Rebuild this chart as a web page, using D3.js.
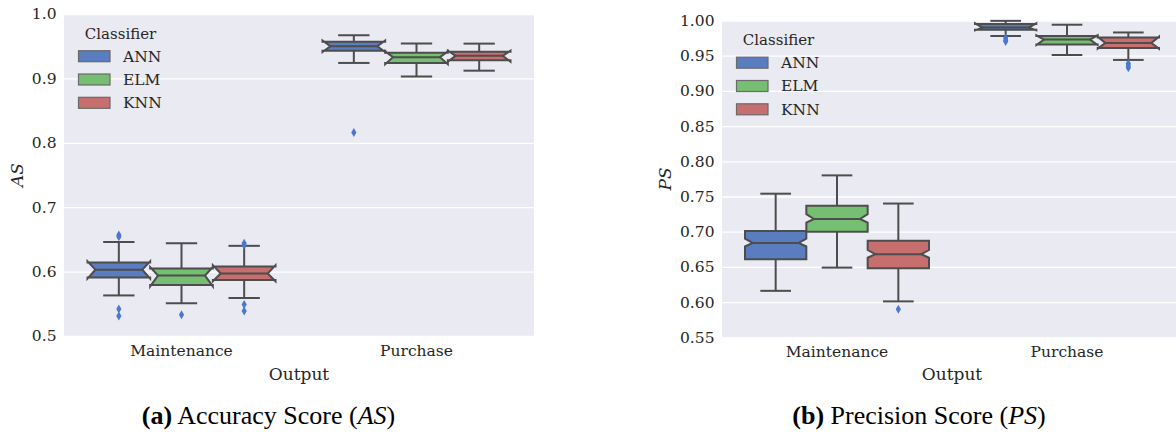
<!DOCTYPE html>
<html>
<head>
<meta charset="utf-8">
<script src="https://cdn.jsdelivr.net/npm/d3@7"></script>
<style>
  body { margin: 0; background: #fff; }
  svg text { font-family: "DejaVu Serif", serif; fill: #262626; }
  svg text.caption { font-family: "Liberation Serif", "Times New Roman", serif; fill: #000; }
</style>
</head>
<body>
<svg id="fig" width="1176" height="435"></svg>
<script>
// ── Data ─────────────────────────────────────────────────────────────────────
const OUTPUTS = ['Maintenance', 'Purchase'];
const CLASSIFIERS = ['ANN', 'ELM', 'KNN'];
const BOX_COLORS = ['#597dbe', '#76bf72', '#c76e6e'];

// [output, classifier, whiskerLo, q1, median, q3, whiskerHi, notchLo, notchHi]
const AS_BOXES = [
    ['Maintenance', 'ANN', 0.563, 0.591, 0.603, 0.614, 0.646, 0.589, 0.616],
    ['Maintenance', 'ELM', 0.551, 0.579, 0.594, 0.605, 0.644, 0.577, 0.607],
    ['Maintenance', 'KNN', 0.559, 0.587, 0.597, 0.608, 0.640, 0.585, 0.610],
    ['Purchase',    'ANN', 0.924, 0.943, 0.950, 0.957, 0.967, 0.941, 0.959],
    ['Purchase',    'ELM', 0.903, 0.924, 0.933, 0.940, 0.954, 0.922, 0.942],
    ['Purchase',    'KNN', 0.912, 0.928, 0.935, 0.9415, 0.954, 0.926, 0.943]
];
// [output, classifier, value]
const AS_OUTLIERS = [
    ['Maintenance', 'ANN', 0.657], ['Maintenance', 'ANN', 0.654],
    ['Maintenance', 'ANN', 0.542], ['Maintenance', 'ANN', 0.531],
    ['Maintenance', 'ELM', 0.533],
    ['Maintenance', 'KNN', 0.644], ['Maintenance', 'KNN', 0.641],
    ['Maintenance', 'KNN', 0.549], ['Maintenance', 'KNN', 0.539],
    ['Purchase',    'ANN', 0.816]
];

const PS_BOXES = [
    ['Maintenance', 'ANN', 0.616, 0.661, 0.684, 0.701, 0.754, 0.679, 0.690],
    ['Maintenance', 'ELM', 0.649, 0.700, 0.718, 0.737, 0.780, 0.713, 0.725],
    ['Maintenance', 'KNN', 0.601, 0.648, 0.668, 0.687, 0.740, 0.663, 0.674],
    ['Purchase',    'ANN', 0.978, 0.987, 0.990, 0.995, 0.9995, 0.986, 0.996],
    ['Purchase',    'ELM', 0.951, 0.966, 0.973, 0.978, 0.994, 0.965, 0.979],
    ['Purchase',    'KNN', 0.944, 0.961, 0.968, 0.976, 0.983, 0.960, 0.977]
];
const PS_OUTLIERS = [
    ['Maintenance', 'KNN', 0.590],
    ['Purchase',    'ANN', 0.975], ['Purchase', 'ANN', 0.972], ['Purchase', 'ANN', 0.970],
    ['Purchase',    'KNN', 0.939], ['Purchase', 'KNN', 0.936], ['Purchase', 'KNN', 0.933]
];

const AS_TICKS = [0.5, 0.6, 0.7, 0.8, 0.9, 1.0];
const PS_TICKS = [0.55, 0.60, 0.65, 0.70, 0.75, 0.80, 0.85, 0.90, 0.95, 1.00];

// ── Styling ──────────────────────────────────────────────────────────────────
const BG = '#eaeaf2';
const LINE = '#4d4d4d';
const FLIER = '#4878cf';
const TICK_FS = 15.5;

const svg = d3.select('#fig');

function drawPanel(opt) {
    const { left, right, top, bottom } = opt.area;
    const g = svg.append('g');

    g.append('rect')
        .attr('x', left).attr('y', top)
        .attr('width', right - left).attr('height', bottom - top)
        .attr('fill', BG);

    const x = d3.scaleBand().domain(OUTPUTS).range([left, right]).padding(0);
    const xIn = d3.scaleBand().domain(CLASSIFIERS)
        .range([0, x.bandwidth() * 0.8]);
    const y = d3.scaleLinear().domain(opt.yDomain).range([bottom, top]);

    // grid
    g.append('g')
        .attr('transform', `translate(${left},0)`)
        .call(d3.axisLeft(y).tickValues(opt.ticks).tickSize(-(right - left)).tickFormat(''))
        .call(s => s.select('.domain').remove())
        .selectAll('line').attr('stroke', '#fff').attr('stroke-width', 1.3);

    // y axis labels
    g.append('g')
        .attr('transform', `translate(${left},0)`)
        .call(d3.axisLeft(y).tickValues(opt.ticks).tickSize(0).tickPadding(7.5)
            .tickFormat(d3.format(opt.fmt)))
        .call(s => s.select('.domain').remove())
        .selectAll('text')
        .attr('font-size', TICK_FS).attr('font-family', '"DejaVu Serif", serif')
        .attr('fill', '#262626');

    // x axis labels
    g.append('g')
        .attr('transform', `translate(0,${bottom})`)
        .call(d3.axisBottom(x).tickSize(0).tickPadding(9))
        .call(s => s.select('.domain').remove())
        .selectAll('text')
        .attr('font-size', TICK_FS).attr('font-family', '"DejaVu Serif", serif')
        .attr('fill', '#262626');

    g.append('text')
        .attr('x', (left + right) / 2).attr('y', 379.5)
        .attr('text-anchor', 'middle').attr('font-size', 17)
        .text('Output');

    g.append('text')
        .attr('transform', `translate(${opt.yLabelX},${(top + bottom) / 2}) rotate(-90)`)
        .attr('text-anchor', 'middle').attr('dy', '0.35em')
        .attr('font-size', 17).attr('font-style', 'italic')
        .text(opt.yLabel);

    // boxes
    const w = xIn.bandwidth();
    const bx = (o, c) => x(o) + x.bandwidth() * 0.1 + xIn(c);

    opt.boxes.forEach(([o, c, wLo, q1, med, q3, wHi, ciLo, ciHi]) => {
        const x0 = bx(o, c), x1 = x0 + w, cx = x0 + w / 2;
        const nl = x0 + w * 0.125, nr = x1 - w * 0.125;
        const color = BOX_COLORS[CLASSIFIERS.indexOf(c)];

        // whiskers
        [[q1, wLo], [q3, wHi]].forEach(([a, b]) => {
            g.append('line').attr('x1', cx).attr('x2', cx)
                .attr('y1', y(a)).attr('y2', y(b))
                .attr('stroke', LINE).attr('stroke-width', 2);
            g.append('line').attr('x1', cx - w / 4).attr('x2', cx + w / 4)
                .attr('y1', y(b)).attr('y2', y(b))
                .attr('stroke', LINE).attr('stroke-width', 2);
        });

        // notched box (matplotlib path order; notch may run past the hinges)
        const pts = [
            [x0, q1], [x1, q1], [x1, ciLo], [nr, med], [x1, ciHi], [x1, q3],
            [x0, q3], [x0, ciHi], [nl, med], [x0, ciLo], [x0, q1]
        ].map(([px, v]) => [px, y(v)]);
        g.append('path')
            .attr('d', d3.line()(pts) + 'Z')
            .attr('fill', color)
            .attr('stroke', LINE).attr('stroke-width', 2)
            .attr('stroke-linejoin', 'miter');

        g.append('line').attr('x1', nl).attr('x2', nr)
            .attr('y1', y(med)).attr('y2', y(med))
            .attr('stroke', LINE).attr('stroke-width', 2);
    });

    // outliers
    opt.outliers.forEach(([o, c, v]) => {
        const cx = bx(o, c) + w / 2, cy = y(v);
        g.append('path')
            .attr('d', `M${cx},${cy - 4.5}L${cx + 2.6},${cy}L${cx},${cy + 4.5}L${cx - 2.6},${cy}Z`)
            .attr('fill', FLIER);
    });

    // legend
    const lx = left + 14.5, ly = top;
    g.append('text')
        .attr('x', lx + 42).attr('y', ly + 19.5).attr('dy', '0.35em')
        .attr('text-anchor', 'middle').attr('font-size', 15)
        .text('Classifier');
    CLASSIFIERS.forEach((c, i) => {
        const yy = ly + 36.7 + i * 23.3;
        g.append('rect')
            .attr('x', lx).attr('y', yy).attr('width', 31.5).attr('height', 11)
            .attr('fill', BOX_COLORS[i]).attr('stroke', '#6a6a6a').attr('stroke-width', 1.2);
        g.append('text')
            .attr('x', lx + 44.5).attr('y', yy + 5.5).attr('dy', '0.35em')
            .attr('font-size', TICK_FS)
            .text(c);
    });

    // caption
    const cap = svg.append('text')
        .attr('class', 'caption')
        .attr('x', opt.capX).attr('y', 424)
        .attr('text-anchor', 'middle').attr('font-size', 26);
    cap.append('tspan').attr('font-weight', 'bold').text(opt.capTag);
    cap.append('tspan').text(' ' + opt.capText + ' (');
    cap.append('tspan').attr('font-style', 'italic').text(opt.yLabel);
    cap.append('tspan').text(')');
}

drawPanel({
    area: { left: 64, right: 534, top: 14, bottom: 336 },
    yDomain: [0.5, 1.0], ticks: AS_TICKS, fmt: '.1f',
    boxes: AS_BOXES, outliers: AS_OUTLIERS,
    yLabel: 'AS', yLabelX: 17.5,
    capX: 268.5, capTag: '(a)', capText: 'Accuracy Score'
});

drawPanel({
    area: { left: 722, right: 1182, top: 20.5, bottom: 337.3 },
    yDomain: [0.55, 1.0], ticks: PS_TICKS, fmt: '.2f',
    boxes: PS_BOXES, outliers: PS_OUTLIERS,
    yLabel: 'PS', yLabelX: 665.5,
    capX: 919, capTag: '(b)', capText: 'Precision Score'
});
</script>
</body>
</html>
